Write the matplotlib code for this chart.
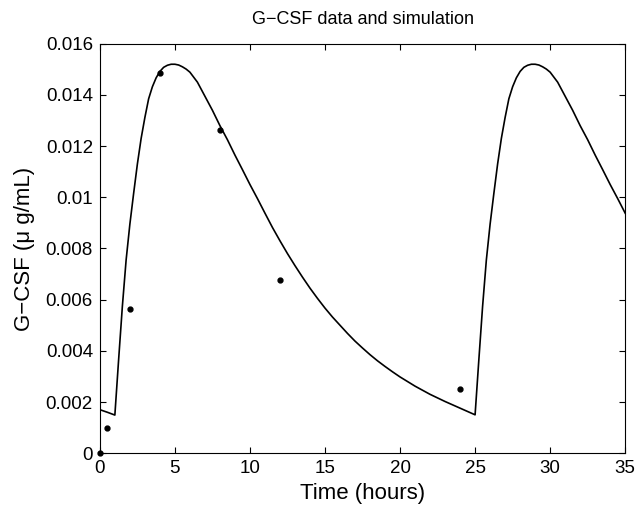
import matplotlib
matplotlib.use("Agg")
import matplotlib.pyplot as plt
from matplotlib.ticker import FormatStrFormatter

# measured G-CSF data
data_time = [0, 0.5, 2, 4, 8, 12, 24]
data_gcsf = [0.0, 0.0010, 0.00563, 0.01486, 0.01262, 0.00678, 0.00252]

# simulated curve (two doses, at t=1 and t=25)
sim_time = [0, 0.5, 1.0, 1.25, 1.5, 1.75, 2.0, 2.25, 2.5, 2.75, 3.0, 3.25,
            3.5, 3.75, 4.0, 4.25, 4.5, 4.75, 5.0, 5.25, 5.5, 5.75, 6.0,
            6.5, 7.0, 7.5, 8.0, 8.5, 9.0, 9.5, 10.0, 10.5, 11.0, 11.5,
            12.0, 12.5, 13.0, 13.5, 14.0, 14.5, 15.0, 15.5, 16.0, 16.5,
            17.0, 17.5, 18.0, 18.5, 19.0, 19.5, 20.0, 20.5, 21.0, 21.5,
            22.0, 22.5, 23.0, 23.5, 24.0, 24.5, 25.0,
            25.25, 25.5, 25.75, 26.0, 26.25, 26.5, 26.75, 27.0, 27.25,
            27.5, 27.75, 28.0, 28.25, 28.5, 28.75, 29.0, 29.25, 29.5,
            29.75, 30.0, 30.5, 31.0, 31.5, 32.0, 32.5, 33.0, 33.5, 34.0,
            34.5, 35.0]
sim_gcsf = [0.00170, 0.00160, 0.00149, 0.00365, 0.00574, 0.00755, 0.00895,
            0.01015, 0.01130, 0.01230, 0.01312, 0.01385, 0.01432, 0.01467,
            0.01492, 0.01508, 0.01516, 0.01520, 0.01520, 0.01517, 0.01510,
            0.01501, 0.01489, 0.01450, 0.01395, 0.01340, 0.01280, 0.01225,
            0.01165, 0.01108, 0.01050, 0.00995, 0.00938, 0.00882, 0.00830,
            0.00780, 0.00733, 0.00688, 0.00645, 0.00605, 0.00567, 0.00532,
            0.00500, 0.00468, 0.00438, 0.00411, 0.00385, 0.00361, 0.00339,
            0.00318, 0.00298, 0.00280, 0.00262, 0.00246, 0.00230, 0.00216,
            0.00202, 0.00189, 0.00176, 0.00163, 0.00150,
            0.00365, 0.00574, 0.00755, 0.00895, 0.01015, 0.01130, 0.01230,
            0.01312, 0.01385, 0.01432, 0.01467, 0.01492, 0.01508, 0.01516,
            0.01520, 0.01520, 0.01517, 0.01510, 0.01501, 0.01489, 0.01450,
            0.01395, 0.01340, 0.01280, 0.01225, 0.01165, 0.01108, 0.01050,
            0.00995, 0.00938]

plt.rcParams['font.family'] = ['Liberation Sans', 'DejaVu Sans']

fig = plt.figure(figsize=(6.36, 5.15), dpi=100)
ax = fig.add_axes([0.157, 0.120, 0.826, 0.795])

ax.plot(sim_time, sim_gcsf, color='black', linewidth=1.2)
ax.plot(data_time, data_gcsf, 'o', color='black', markersize=3.5,
        clip_on=False)

ax.set_xlim(0, 35)
ax.set_ylim(0, 0.016)
ax.set_xticks(range(0, 36, 5))
ax.set_yticks([i * 0.002 for i in range(9)])
ax.yaxis.set_major_formatter(FormatStrFormatter('%g'))
ax.tick_params(direction='in', top=True, right=True, length=4,
               labelsize=13.5, width=0.8, pad=5)
for s in ax.spines.values():
    s.set_linewidth(0.8)

ax.set_xlabel("Time (hours)", fontsize=16, labelpad=4)
ax.set_ylabel("G\u2212CSF (\u03bc g/mL)", fontsize=16, labelpad=8)
ax.set_title("G\u2212CSF data and simulation", fontsize=13, pad=14)

fig.savefig("out.png", dpi=100)
